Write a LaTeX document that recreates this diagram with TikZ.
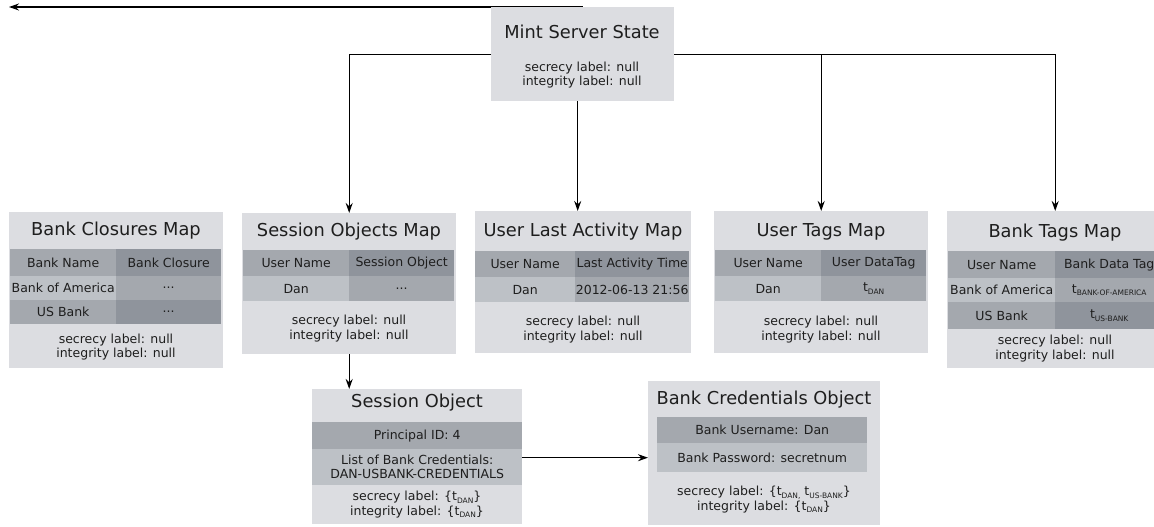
\documentclass[tikz,border=0pt]{standalone}
\usepackage{fontspec}
\setmainfont{DejaVu Sans}
\usetikzlibrary{arrows.meta}
\definecolor{boxbg}{RGB}{220,221,225}
\definecolor{cellA}{RGB}{164,168,174}
\definecolor{cellB}{RGB}{143,148,156}
\definecolor{cellC}{RGB}{189,193,198}
\definecolor{txt}{RGB}{30,30,30}
\newcommand{\tg}[1]{t\raisebox{-0.35ex}{\fontsize{7.5}{8}\selectfont #1}}
\begin{document}
\begin{tikzpicture}[x=1pt,y=-1pt,
  box/.style={fill=boxbg,draw=none,inner sep=0pt,anchor=north west},
  cell/.style={draw=none,inner sep=0pt,anchor=north west,text=txt,font=\fontsize{12.5}{14}\selectfont},
  ttl/.style={text=txt,inner sep=0pt,font=\fontsize{17.8}{20}\selectfont},
  lbl/.style={text=txt,inner sep=0pt,align=center,font=\fontsize{12.5}{14.5}\selectfont},
  arr/.style={draw=black,line width=1.3pt,-{Stealth[length=10pt,width=7pt]}}]
\useasboundingbox (0,0) rectangle (1154,527);
\fill[white] (0,0) rectangle (1154,527);

% top stray connector
\coordinate (topA) at (583,7);
\coordinate (topB) at (9,7);
\draw[arr] (topA) -- (topB);

% Mint Server State
\node[box,minimum width=183pt,minimum height=94pt] (mint) at (491,7) {};
\node[ttl] (mintT) at (582,32) {Mint Server State};
\node[lbl] (mintL) at (582,75) {secrecy label: null\\integrity label: null};

% Bank Closures Map
\node[box,minimum width=214pt,minimum height=156pt] (bcm) at (9,212) {};
\node[ttl] (bcmT) at (116,231) {Bank Closures Map};
\node[cell,fill=cellA,minimum width=106pt,minimum height=27pt] (bcm11) at (10,249) {Bank Name};
\node[cell,fill=cellB,minimum width=105pt,minimum height=27pt] (bcm12) at (116,249) {Bank Closure};
\node[cell,fill=cellC,minimum width=106pt,minimum height=24pt] (bcm21) at (10,276) {Bank of America};
\node[cell,fill=cellA,minimum width=105pt,minimum height=24pt] (bcm22) at (116,276) {...};
\node[cell,fill=cellA,minimum width=106pt,minimum height=24pt] (bcm31) at (10,300) {US Bank};
\node[cell,fill=cellB,minimum width=105pt,minimum height=24pt] (bcm32) at (116,300) {...};
\node[lbl] (bcmL) at (116,347) {secrecy label: null\\integrity label: null};

% Session Objects Map
\node[box,minimum width=214pt,minimum height=141pt] (som) at (242,213) {};
\node[ttl] (somT) at (349,232) {Session Objects Map};
\node[cell,fill=cellA,minimum width=106pt,minimum height=26pt] (som11) at (243,250) {User Name};
\node[cell,fill=cellB,minimum width=105pt,minimum height=26pt] (som12) at (349,250) {Session Object};
\node[cell,fill=cellC,minimum width=106pt,minimum height=25pt] (som21) at (243,276) {Dan};
\node[cell,fill=cellA,minimum width=105pt,minimum height=25pt] (som22) at (349,276) {...};
\node[lbl] (somL) at (349,328.5) {secrecy label: null\\integrity label: null};

% User Last Activity Map
\node[box,minimum width=216pt,minimum height=142pt] (ulam) at (475,211) {};
\node[ttl] (ulamT) at (583,232) {User Last Activity Map};
\node[cell,fill=cellA,minimum width=100pt,minimum height=26pt] (ulam11) at (475,251) {User Name};
\node[cell,fill=cellB,minimum width=114pt,minimum height=26pt] (ulam12) at (575,251) {Last Activity Time};
\node[cell,fill=cellC,minimum width=100pt,minimum height=25pt] (ulam21) at (475,277) {Dan};
\node[cell,fill=cellA,minimum width=114pt,minimum height=25pt] (ulam22) at (575,277) {2012-06-13 21:56};
\node[lbl] (ulamL) at (583,329.5) {secrecy label: null\\integrity label: null};

% User Tags Map
\node[box,minimum width=214pt,minimum height=142pt] (utm) at (714,211) {};
\node[ttl] (utmT) at (821,232) {User Tags Map};
\node[cell,fill=cellA,minimum width=106pt,minimum height=26pt] (utm11) at (715,250) {User Name};
\node[cell,fill=cellB,minimum width=105pt,minimum height=26pt] (utm12) at (821,250) {User DataTag};
\node[cell,fill=cellC,minimum width=106pt,minimum height=25pt] (utm21) at (715,276) {Dan};
\node[cell,fill=cellA,minimum width=105pt,minimum height=25pt] (utm22) at (821,276) {\tg{DAN}};
\node[lbl] (utmL) at (821,329.5) {secrecy label: null\\integrity label: null};

% Bank Tags Map
\node[box,minimum width=216pt,minimum height=157pt] (btm) at (947,211) {};
\node[ttl] (btmT) at (1055,233) {Bank Tags Map};
\node[cell,fill=cellA,minimum width=107pt,minimum height=27pt] (btm11) at (948,251) {User Name};
\node[cell,fill=cellB,minimum width=108pt,minimum height=27pt] (btm12) at (1055,251) {Bank Data Tag};
\node[cell,fill=cellC,minimum width=107pt,minimum height=24pt] (btm21) at (948,278) {Bank of America};
\node[cell,fill=cellA,minimum width=108pt,minimum height=24pt] (btm22) at (1055,278) {\tg{BANK-OF-AMERICA}};
\node[cell,fill=cellA,minimum width=107pt,minimum height=27pt] (btm31) at (948,302) {US Bank};
\node[cell,fill=cellB,minimum width=108pt,minimum height=27pt] (btm32) at (1055,302) {\tg{US-BANK}};
\node[lbl] (btmL) at (1055,348.5) {secrecy label: null\\integrity label: null};

% Session Object
\node[box,minimum width=210pt,minimum height=135pt] (so) at (312,389) {};
\node[ttl] (soT) at (417,403) {Session Object};
\node[cell,fill=cellA,minimum width=210pt,minimum height=27pt] (so1) at (312,422) {Principal ID: 4};
\node[cell,fill=cellC,minimum width=210pt,minimum height=36pt,align=center] (so2) at (312,449) {List of Bank Credentials:\\DAN-USBANK-CREDENTIALS};
\node[lbl] (soL) at (417,504.5) {secrecy label: \{\tg{DAN}\}\\integrity label: \{\tg{DAN}\}};

% Bank Credentials Object
\node[box,minimum width=232pt,minimum height=144pt] (bco) at (648,381) {};
\node[ttl] (bcoT) at (764,400) {Bank Credentials Object};
\node[cell,fill=cellA,minimum width=210pt,minimum height=26pt] (bco1) at (657,417) {Bank Username: Dan};
\node[cell,fill=cellC,minimum width=210pt,minimum height=29pt] (bco2) at (657,443) {Bank Password: secretnum};
\node[lbl] (bcoL) at (764,499.5) {secrecy label: \{\tg{DAN,} \tg{US-BANK}\}\\integrity label: \{\tg{DAN}\}};

% connectors
\draw[arr] (mint.west) -| (som.north);
\draw[arr] (mint.east) -| (utm.north);
\draw[arr] (mint.east) -| (btm.north);
\draw[arr] ([xshift=-5pt]mint.south) -- ([xshift=-5pt]mint.south |- ulam.north);
\draw[arr] (som.south) -- (som.south |- so.north);
\draw[arr] (so.east |- bco2.west) -- (bco.west |- bco2.west);
\end{tikzpicture}
\end{document}
